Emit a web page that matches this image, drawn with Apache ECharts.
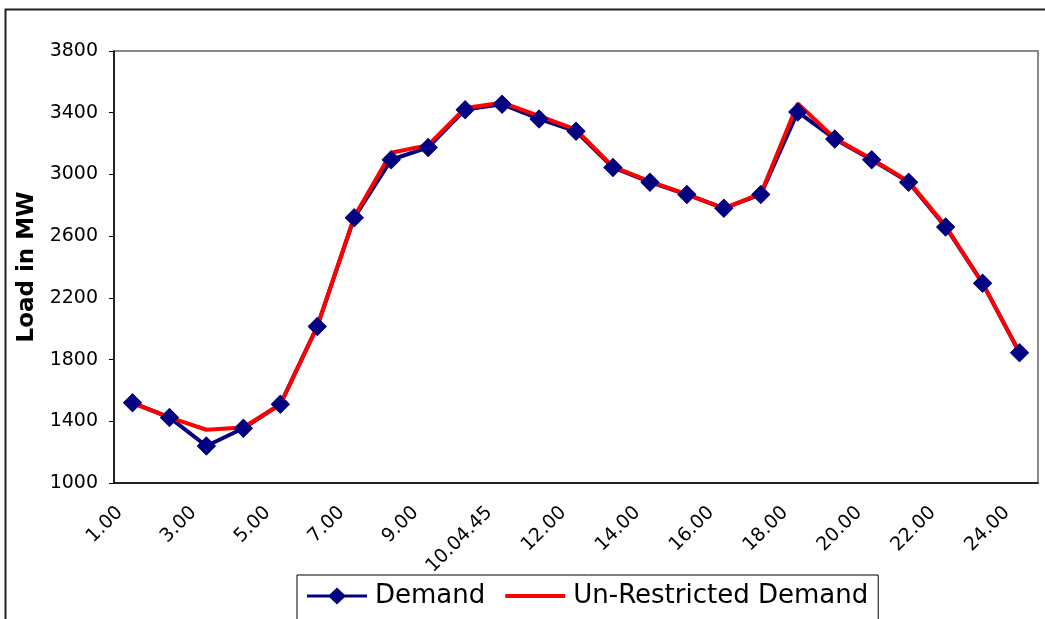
<!DOCTYPE html>
<html>
<head>
<meta charset="utf-8">
<script src="https://cdn.jsdelivr.net/npm/echarts@6/dist/echarts.min.js"></script>
<style>
    html, body { margin: 0; padding: 0; background: #fff; }
    #load_chart { width: 1045px; height: 619px; }
</style>
</head>
<body>
<div id="load_chart"></div>
<script>
// Hours of the day (10.04.45 is the peak reading)
var hours = ['1.00', '2.00', '3.00', '4.00', '5.00', '6.00', '7.00', '8.00', '9.00', '10.00', '10.04.45',
    '11.00', '12.00', '13.00', '14.00', '15.00', '16.00', '17.00', '18.00', '19.00', '20.00',
    '21.00', '22.00', '23.00', '24.00'];

// Load in MW
var demand = [1520, 1425, 1240, 1355, 1510, 2015, 2720, 3095, 3175, 3420, 3455,
    3360, 3280, 3045, 2950, 2870, 2780, 2870, 3405, 3230, 3095,
    2950, 2660, 2295, 1845];
var unrestricted = [1520, 1425, 1345, 1360, 1510, 2015, 2725, 3140, 3190, 3430, 3465,
    3380, 3290, 3050, 2955, 2870, 2780, 2875, 3460, 3235, 3100,
    2955, 2665, 2295, 1845];

var fontFamily = '"DejaVu Sans", Arial, sans-serif';

var load_chart_element = document.getElementById('load_chart');
var load_chart = echarts.init(load_chart_element);

load_chart.setOption({
    animation: false,
    textStyle: {
        fontFamily: fontFamily,
        color: '#000'
    },

    // Outer frame of the picture
    graphic: [{
        type: 'rect',
        shape: { x: 5.5, y: 9.5, width: 1200, height: 800 },
        style: { fill: 'none', stroke: '#222', lineWidth: 2 },
        silent: true
    }],

    grid: {
        left: 114,
        right: 7,
        top: 51,
        bottom: 136,
        show: true,
        borderColor: '#888',
        borderWidth: 2
    },

    legend: {
        data: [
            {
                name: 'Demand',
                icon: 'path://M0,7 L60,7 L60,10 L0,10 Z M30,0 L39,8.5 L30,17 L21,8.5 Z',
                itemStyle: { color: '#000080' }
            },
            {
                name: 'Un-Restricted Demand',
                icon: 'path://M0,0 L60,0 L60,4 L0,4 Z',
                itemStyle: { color: '#ff0000' }
            }
        ],
        left: 297,
        top: 575,
        padding: [8, 10, 20, 10],
        borderColor: '#000',
        borderWidth: 1,
        itemWidth: 60,
        itemHeight: 17,
        itemGap: 20,
        textStyle: {
            fontFamily: fontFamily,
            fontSize: 26,
            color: '#000',
            padding: [0, 0, 0, 3]
        }
    },

    xAxis: {
        type: 'category',
        data: hours,
        boundaryGap: true,
        axisLine: {
            lineStyle: { color: '#000', width: 1.5 }
        },
        axisTick: {
            interval: 0,
            length: 5,
            lineStyle: { color: '#000' }
        },
        axisLabel: {
            interval: 1,
            rotate: 45,
            margin: 14,
            padding: [0, 18, 0, 0],
            fontSize: 19,
            color: '#000'
        },
        splitLine: { show: false }
    },

    yAxis: {
        type: 'value',
        min: 1000,
        max: 3800,
        interval: 400,
        name: 'Load in MW',
        nameLocation: 'middle',
        nameGap: 60,
        nameTextStyle: {
            fontFamily: fontFamily,
            fontSize: 23,
            fontWeight: 'bold',
            color: '#000'
        },
        axisLine: {
            show: true,
            lineStyle: { color: '#000', width: 1.5 }
        },
        axisTick: {
            show: true,
            length: 5,
            lineStyle: { color: '#000' }
        },
        axisLabel: {
            margin: 16,
            fontSize: 19,
            color: '#000',
            formatter: function (value) {
                return String(value);
            }
        },
        splitLine: { show: false }
    },

    series: [{
        name: 'Demand',
        type: 'line',
        data: demand,
        z: 1,
        symbol: 'diamond',
        symbolSize: 19,
        color: '#000080',
        lineStyle: { color: '#000080', width: 4 },
        itemStyle: { color: '#000080' }
    }, {
        name: 'Un-Restricted Demand',
        type: 'line',
        data: unrestricted,
        z: 2,
        symbol: 'none',
        color: '#ff0000',
        lineStyle: { color: '#ff0000', width: 4 }
    }, {
        // Demand markers again, so they sit above the red line
        name: 'Demand points',
        type: 'line',
        data: demand,
        z: 3,
        symbol: 'diamond',
        symbolSize: 19,
        lineStyle: { width: 0, opacity: 0 },
        itemStyle: { color: '#000080' }
    }]
});
</script>
</body>
</html>
